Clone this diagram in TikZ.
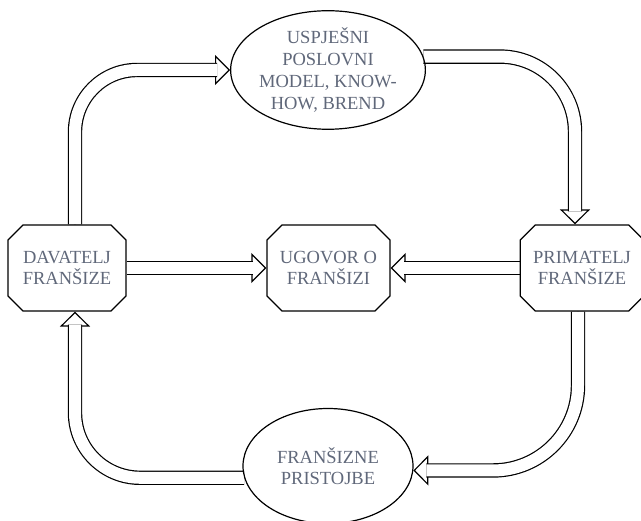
\documentclass[tikz,border=0pt]{standalone}
\usepackage{fontspec}
\setmainfont{Liberation Serif}
\usetikzlibrary{shapes.geometric, shapes.misc, arrows.meta, backgrounds}
\definecolor{labelgray}{RGB}{96,104,122}

% hollow block arrow: head first, then the double shaft over it
\newcommand{\flow}[2][0pt]{%
  \draw[flowhead, rounded corners=#1] #2;
  \draw[flowshaft, rounded corners=#1] #2;
}

\begin{document}
\begin{tikzpicture}[x=1pt, y=-1pt,
    every node/.style={font=\fontsize{18.5}{21.7}\selectfont, text=labelgray, align=center, line width=1.2pt},
    party/.style={chamfered rectangle, chamfered rectangle xsep=12pt, draw, minimum height=86pt, inner sep=1pt},
    topic/.style={ellipse, draw, minimum width=170pt, minimum height=115pt, inner sep=0pt},
    flowhead/.style={line width=1.2pt, -{Triangle[length=15pt, width=30pt, fill=white, line width=1.2pt]}},
    flowshaft/.style={double, double distance=12pt, line width=1.2pt, shorten >=13pt}
]
\useasboundingbox (0,0) rectangle (641,521);

% the three parties
\node[party, minimum width=118pt] (dav) at (67,268) {DAVATELJ\\FRANŠIZE};
\node[party, minimum width=117pt] (ugo) at (328.5,268) {UGOVOR O\\FRANŠIZI};
\node[party, minimum width=110pt] (pri) at (582,268) {PRIMATELJ\\FRANŠIZE};

% what flows between them
\node[topic] (usp) at (328,70) {USPJEŠNI\\POSLOVNI\\MODEL, KNOW-\\HOW, BREND};
\node[topic] (fra) at (328,466) {FRANŠIZNE\\PRISTOJBE};

% Arrows
\begin{scope}[on background layer]
\flow[62pt]{([xshift=8pt]dav.north) |- (usp.west)}
\flow[75pt]{(usp.8) -| ([xshift=-7pt]pri.north)}
\flow[85pt]{([xshift=-4pt]pri.south) |- (fra.357)}
\flow[65pt]{(fra.188) -| ([xshift=8pt]dav.south)}
\flow{(dav.east) -- (ugo.west)}
\flow{(pri.west) -- (ugo.east)}
\end{scope}
\end{tikzpicture}
\end{document}
